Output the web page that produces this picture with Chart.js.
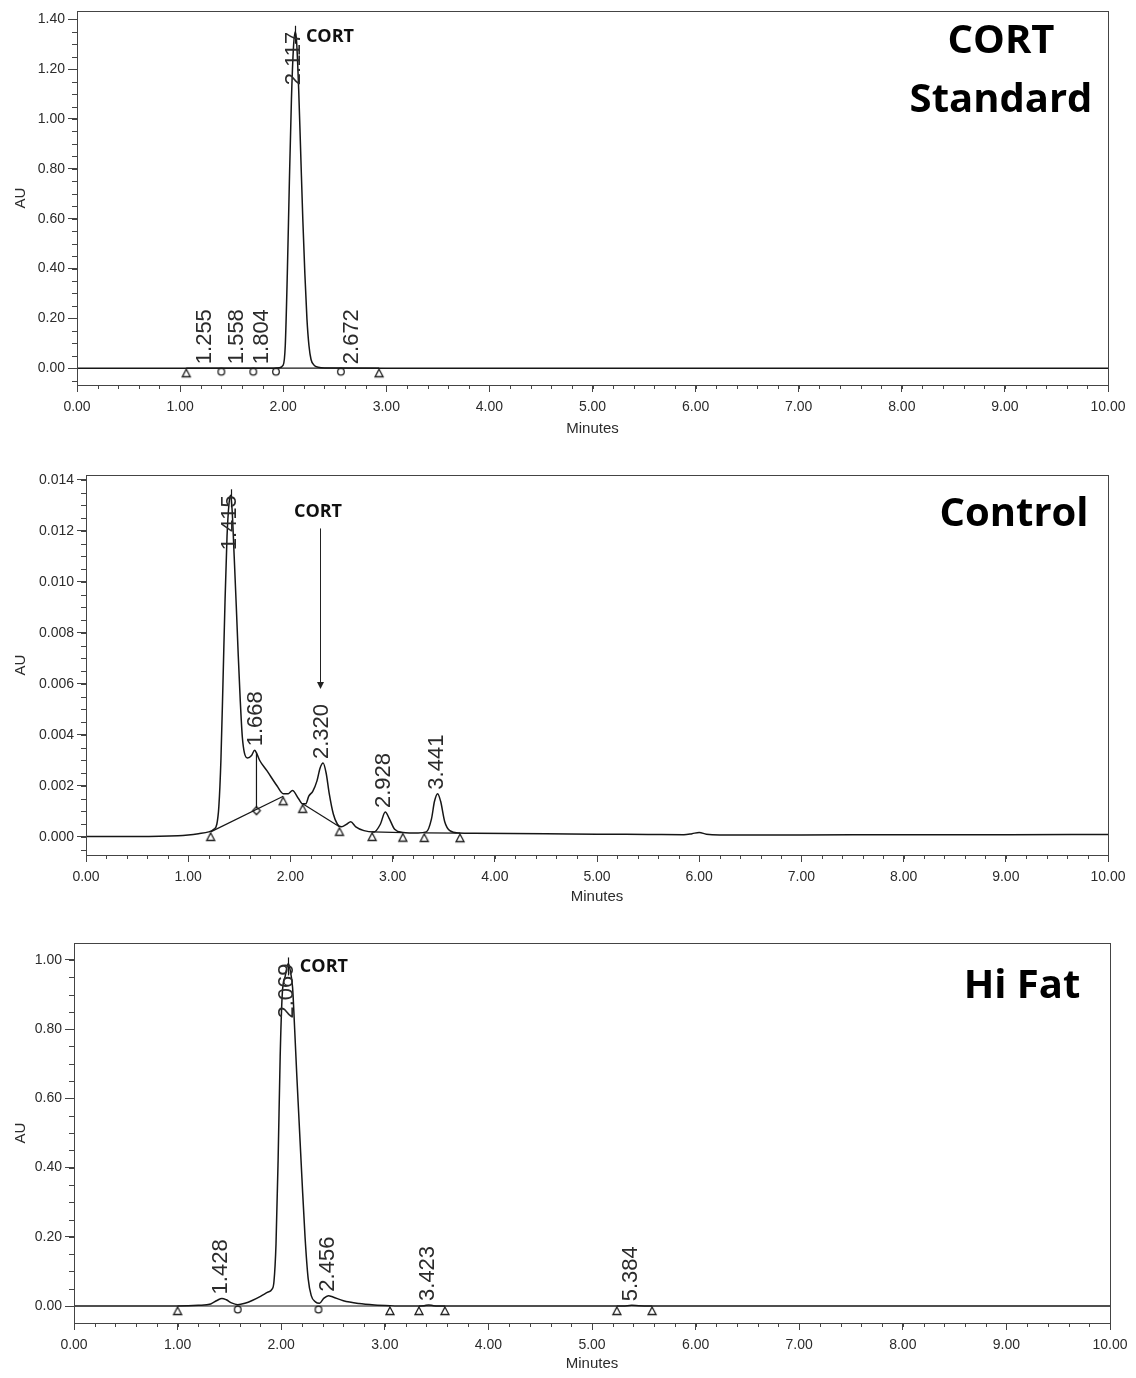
<!DOCTYPE html>
<html>
<head>
<meta charset="utf-8">
<script src="https://cdn.jsdelivr.net/npm/chart.js@4.4.1/dist/chart.umd.min.js"></script>
<style>
    body { margin: 0; background: #fff; width: 1136px; height: 1378px; position: relative; overflow: hidden; }
    canvas { position: absolute; left: 0; }
</style>
</head>
<body>
<canvas id="cortChart" width="1136" height="443" style="top:0px"></canvas>
<canvas id="controlChart" width="1136" height="451" style="top:460px"></canvas>
<canvas id="hiFatChart" width="1136" height="453" style="top:925px"></canvas>
<script>
const minuteTicks = [0, 1, 2, 3, 4, 5, 6, 7, 8, 9, 10];

// CORT standard
const cortTime = [0, 1.0, 1.9, 1.96, 2.0, 2.02, 2.04, 2.06, 2.08, 2.10, 2.117, 2.13, 2.15, 2.17, 2.19, 2.21, 2.23, 2.25, 2.27, 2.30, 2.34, 2.40, 3.0, 10];
const cortAU = [0, 0, 0, 0.002, 0.012, 0.09, 0.38, 0.75, 1.08, 1.29, 1.35, 1.31, 1.12, 0.86, 0.6, 0.38, 0.2, 0.09, 0.035, 0.012, 0.004, 0.001, 0, 0];
const cortTicksAU = [0, 0.2, 0.4, 0.6, 0.8, 1.0, 1.2, 1.4];
const cortPeaks = ['1.255', '1.558', '1.804', '2.117', '2.672'];
const cortMarkTime = [1.06, 1.40, 1.71, 1.93, 2.56, 2.93];
const cortMarkAU = [0, 0, 0, 0, 0, 0];
const cortMarkShape = ['tri', 'circ', 'circ', 'circ', 'circ', 'tri'];
const cortBaselines = [[1.06, 0, 2.93, 0]];

// Control
const controlTime = [0, 0.5, 0.9, 1.0, 1.1, 1.2, 1.25, 1.28, 1.30, 1.32, 1.34, 1.36, 1.38, 1.40, 1.415, 1.43, 1.45, 1.47, 1.49, 1.51, 1.53, 1.55, 1.58, 1.62, 1.65, 1.668, 1.70, 1.77, 1.87, 1.93, 1.98, 2.02, 2.08, 2.12, 2.15, 2.18, 2.22, 2.26, 2.29, 2.32, 2.35, 2.38, 2.42, 2.46, 2.50, 2.55, 2.59, 2.64, 2.72, 2.82, 2.88, 2.928, 2.97, 3.02, 3.10, 3.25, 3.33, 3.38, 3.41, 3.441, 3.47, 3.51, 3.56, 3.65, 3.8, 4.5, 5.0, 5.5, 5.85, 5.93, 6.0, 6.07, 6.2, 7.0, 8.0, 9.0, 10.0];
const controlAU = [0.00002, 0.00002, 0.00005, 0.00008, 0.00013, 0.0002, 0.0003, 0.0005, 0.0012, 0.003, 0.006, 0.0092, 0.0118, 0.0131, 0.0134, 0.0128, 0.011, 0.0091, 0.0071, 0.0053, 0.0039, 0.0033, 0.0031, 0.0032, 0.0034, 0.0033, 0.003, 0.0026, 0.002, 0.0017, 0.0017, 0.00182, 0.0015, 0.0013, 0.0013, 0.0016, 0.0018, 0.0022, 0.0027, 0.0029, 0.0025, 0.0017, 0.0009, 0.0005, 0.0004, 0.0005, 0.0006, 0.0004, 0.00025, 0.0002, 0.0005, 0.00098, 0.0007, 0.0003, 0.00018, 0.00016, 0.0002, 0.0007, 0.0014, 0.0017, 0.0014, 0.0006, 0.00025, 0.00016, 0.00015, 0.00013, 0.00011, 0.0001, 0.00009, 0.00013, 0.00018, 0.00011, 0.00008, 0.00008, 0.00009, 0.00009, 0.0001];
const controlTicksAU = [0, 0.002, 0.004, 0.006, 0.008, 0.010, 0.012, 0.014];
const controlPeaks = ['1.415', '1.668', '2.320', '2.928', '3.441'];
const controlMarkTime = [1.22, 1.668, 1.93, 2.12, 2.48, 2.80, 3.10, 3.31, 3.66];
const controlMarkAU = [0.0002, 0.00113, 0.0016, 0.0013, 0.0004, 0.0002, 0.00017, 0.00016, 0.00015];
const controlMarkShape = ['tri', 'dia', 'tri', 'tri', 'tri', 'tri', 'tri', 'tri', 'tri'];
const controlBaselines = [[1.22, 0.0002, 1.93, 0.0016], [2.12, 0.0013, 2.48, 0.0004], [2.80, 0.0002, 3.10, 0.00017], [3.31, 0.00016, 3.66, 0.00015], [1.668, 0.0033, 1.668, 0.00113]];

// Hi Fat
const hiFatTime = [0, 1.0, 1.2, 1.32, 1.38, 1.428, 1.47, 1.52, 1.58, 1.65, 1.72, 1.80, 1.87, 1.91, 1.93, 1.95, 1.97, 1.99, 2.01, 2.04, 2.069, 2.09, 2.11, 2.13, 2.15, 2.17, 2.20, 2.23, 2.26, 2.29, 2.33, 2.37, 2.41, 2.456, 2.50, 2.60, 2.75, 2.90, 3.05, 3.2, 3.38, 3.423, 3.47, 3.6, 5.3, 5.384, 5.45, 5.7, 10];
const hiFatAU = [0, 0, 0.002, 0.006, 0.016, 0.022, 0.018, 0.009, 0.004, 0.008, 0.016, 0.028, 0.04, 0.048, 0.07, 0.18, 0.42, 0.72, 0.9, 0.955, 0.99, 0.965, 0.92, 0.8, 0.67, 0.55, 0.37, 0.2, 0.08, 0.03, 0.012, 0.008, 0.022, 0.03, 0.026, 0.015, 0.007, 0.003, 0.001, 0, 0.001, 0.003, 0.001, 0, 0, 0.002, 0.001, 0, 0];
const hiFatTicksAU = [0, 0.2, 0.4, 0.6, 0.8, 1.0];
const hiFatPeaks = ['1.428', '2.069', '2.456', '3.423', '5.384'];
const hiFatMarkTime = [1.0, 1.58, 2.36, 3.05, 3.33, 3.58, 5.24, 5.58];
const hiFatMarkAU = [0, 0, 0, 0, 0, 0, 0, 0];
const hiFatMarkShape = ['tri', 'circ', 'circ', 'tri', 'tri', 'tri', 'tri', 'tri'];
const hiFatBaselines = [[1.0, 0, 3.05, 0], [3.33, 0, 3.58, 0], [5.24, 0, 5.58, 0]];

const INK = '#161616';
const AXIS = '#444';
const TEXT = '#2b2b2b';

const markerImages = {};
['tri', 'circ', 'dia'].forEach(shape => {
    const c = document.createElement('canvas');
    c.width = 14;
    c.height = 22;
    const g = c.getContext('2d');
    g.strokeStyle = '#1e1e1e';
    g.lineWidth = 1.3;
    g.beginPath();
    if (shape === 'tri') {
        g.moveTo(7, 12);
        g.lineTo(11, 19.5);
        g.lineTo(3, 19.5);
        g.closePath();
    } else if (shape === 'circ') {
        g.arc(7, 14.5, 3.3, 0, Math.PI * 2);
    } else {
        g.moveTo(7, 9.5);
        g.lineTo(10.8, 13.5);
        g.lineTo(7, 17.5);
        g.lineTo(3.2, 13.5);
        g.closePath();
    }
    g.stroke();
    markerImages[shape] = c;
});

const panels = [
    {
        id: 'cortChart', area: {left: 77, right: 1108, top: 7, bottom: 385},
        yMin: -0.0674, yMax: 1.4317, yTicks: cortTicksAU, yMinor: 0.05, digits: 2,
        time: cortTime, au: cortAU, peaks: cortPeaks, baselines: cortBaselines,
        markTime: cortMarkTime, markAU: cortMarkAU, markShape: cortMarkShape,
        title: ['CORT', 'Standard'], titleX: 1001, titleY: [53, 112],
        note: {x: 2.22, y: 1.31, align: 'left'}
    },
    {
        id: 'controlChart', area: {left: 86, right: 1108, top: 15, bottom: 395},
        yMin: -0.000706, yMax: 0.014196, yTicks: controlTicksAU, yMinor: 0.0005, digits: 3,
        time: controlTime, au: controlAU, peaks: controlPeaks, baselines: controlBaselines,
        markTime: controlMarkTime, markAU: controlMarkAU, markShape: controlMarkShape,
        title: ['Control'], titleX: 1014, titleY: [66],
        note: {x: 2.27, y: 0.01255, align: 'center', arrowFrom: 0.0121, arrowTo: 0.0058, arrowX: 2.29}
    },
    {
        id: 'hiFatChart', area: {left: 74, right: 1110, top: 18, bottom: 398},
        yMin: -0.0491, yMax: 1.0491, yTicks: hiFatTicksAU, yMinor: 0.05, digits: 2,
        time: hiFatTime, au: hiFatAU, peaks: hiFatPeaks, baselines: hiFatBaselines,
        markTime: hiFatMarkTime, markAU: hiFatMarkAU, markShape: hiFatMarkShape,
        title: ['Hi Fat'], titleX: 1022, titleY: [73],
        note: {x: 2.18, y: 0.965, align: 'left'}
    }
];

const peakHeight = (panel, rt) => Math.max(...panel.time.map((t, i) => Math.abs(t - rt) <= 0.03 ? panel.au[i] : 0));

const chromPlugin = panel => ({
    id: 'chrom',
    afterDatasetsDraw(chart) {
        const {ctx, chartArea, scales: {x, y}} = chart;
        const {left, right, top, bottom} = chartArea;
        ctx.save();

        // frame + minor ticks
        ctx.strokeStyle = AXIS;
        ctx.lineWidth = 1;
        ctx.strokeRect(Math.round(left) + 0.5, Math.round(top) + 0.5, Math.round(right - left), Math.round(bottom - top));
        ctx.beginPath();
        for (let v = 0; v <= 10.0001; v += 0.2) {
            const px = Math.round(x.getPixelForValue(v)) + 0.5;
            ctx.moveTo(px, bottom);
            ctx.lineTo(px, bottom + 4);
        }
        for (let v = -panel.yMinor; v <= panel.yMax; v += panel.yMinor) {
            const py = Math.round(y.getPixelForValue(v)) + 0.5;
            if (py < top || py > bottom) continue;
            ctx.moveTo(left - 5, py);
            ctx.lineTo(left, py);
        }
        ctx.stroke();

        // retention time labels
        ctx.fillStyle = TEXT;
        ctx.strokeStyle = INK;
        ctx.lineWidth = 1.2;
        ctx.font = '22px "Liberation Sans", Arial, sans-serif';
        panel.peaks.forEach(label => {
            const rt = parseFloat(label);
            const px = x.getPixelForValue(rt);
            const apexPx = y.getPixelForValue(peakHeight(panel, rt));
            const len = ctx.measureText(label).width;
            let base = apexPx - 4;
            if (base - len < top + 12) {
                base = apexPx + len;
                ctx.beginPath();
                ctx.moveTo(Math.round(px) + 0.5, apexPx - 6);
                ctx.lineTo(Math.round(px) + 0.5, apexPx + 12);
                ctx.stroke();
            }
            ctx.save();
            ctx.translate(px - 1, base);
            ctx.rotate(-Math.PI / 2);
            ctx.textAlign = 'left';
            ctx.textBaseline = 'middle';
            ctx.fillText(label, 0, 0);
            ctx.restore();
        });

        // CORT note
        const note = panel.note;
        ctx.fillStyle = '#111';
        ctx.font = 'bold 18px "Open Sans", sans-serif';
        ctx.textAlign = note.align;
        ctx.textBaseline = 'alphabetic';
        ctx.fillText('CORT', x.getPixelForValue(note.x), y.getPixelForValue(note.y));
        if (note.arrowX) {
            const ax = Math.round(x.getPixelForValue(note.arrowX)) + 0.5;
            const y1 = y.getPixelForValue(note.arrowFrom);
            const y2 = y.getPixelForValue(note.arrowTo);
            ctx.strokeStyle = '#222';
            ctx.lineWidth = 1;
            ctx.beginPath();
            ctx.moveTo(ax, y1);
            ctx.lineTo(ax, y2 - 5);
            ctx.stroke();
            ctx.fillStyle = '#222';
            ctx.beginPath();
            ctx.moveTo(ax - 3.5, y2 - 7);
            ctx.lineTo(ax + 3.5, y2 - 7);
            ctx.lineTo(ax, y2);
            ctx.closePath();
            ctx.fill();
        }

        // panel title
        ctx.fillStyle = '#000';
        ctx.font = 'bold 40px "Open Sans", sans-serif';
        ctx.textAlign = 'center';
        panel.title.forEach((line, i) => ctx.fillText(line, panel.titleX, panel.titleY[i]));
        ctx.restore();
    }
});

const tickFont = {family: '"Liberation Sans", Arial, sans-serif', size: 14};

panels.forEach(panel => {
    const canvas = document.getElementById(panel.id);
    const {left, right, top, bottom} = panel.area;

    const datasets = [
        {
            data: panel.time.map((t, i) => ({x: t, y: panel.au[i]})),
            borderColor: INK,
            borderWidth: 1.5,
            pointRadius: 0,
            cubicInterpolationMode: 'monotone'
        },
        ...panel.baselines.map(([t1, a1, t2, a2]) => ({
            data: [{x: t1, y: a1}, {x: t2, y: a2}],
            borderColor: INK,
            borderWidth: 1.2,
            pointRadius: 0,
            tension: 0
        })),
        {
            data: panel.markTime.map((t, i) => ({x: t, y: panel.markAU[i]})),
            showLine: false,
            pointRadius: 5,
            pointStyle: c => markerImages[panel.markShape[c.dataIndex]]
        }
    ];

    new Chart(canvas, {
        type: 'line',
        data: {datasets},
        options: {
            responsive: false,
            animation: false,
            events: [],
            clip: false,
            layout: {padding: {left: 0, top, right: canvas.width - right, bottom: 0}},
            plugins: {legend: {display: false}, tooltip: {enabled: false}},
            scales: {
                x: {
                    type: 'linear',
                    min: 0,
                    max: 10,
                    afterBuildTicks: axis => { axis.ticks = minuteTicks.map(value => ({value})); },
                    afterFit: axis => { axis.height = canvas.height - bottom; },
                    ticks: {callback: v => v.toFixed(2), maxRotation: 0, autoSkip: false, padding: 7, color: TEXT, font: tickFont},
                    grid: {drawOnChartArea: false, drawTicks: true, tickLength: 7, color: AXIS},
                    border: {display: true, color: AXIS},
                    title: {display: true, text: 'Minutes', color: TEXT, font: {family: tickFont.family, size: 15}, padding: {top: 0, bottom: 5}}
                },
                y: {
                    min: panel.yMin,
                    max: panel.yMax,
                    afterBuildTicks: axis => { axis.ticks = panel.yTicks.map(value => ({value})); },
                    afterFit: axis => { axis.width = left; },
                    ticks: {callback: v => v.toFixed(panel.digits), padding: 3, color: TEXT, font: tickFont},
                    grid: {drawOnChartArea: false, drawTicks: true, tickLength: 9, color: AXIS},
                    border: {display: true, color: AXIS},
                    title: {display: true, text: 'AU', color: TEXT, font: {family: tickFont.family, size: 15}, padding: {top: 12, bottom: 0}}
                }
            }
        },
        plugins: [chromPlugin(panel)]
    });
});
</script>
</body>
</html>
